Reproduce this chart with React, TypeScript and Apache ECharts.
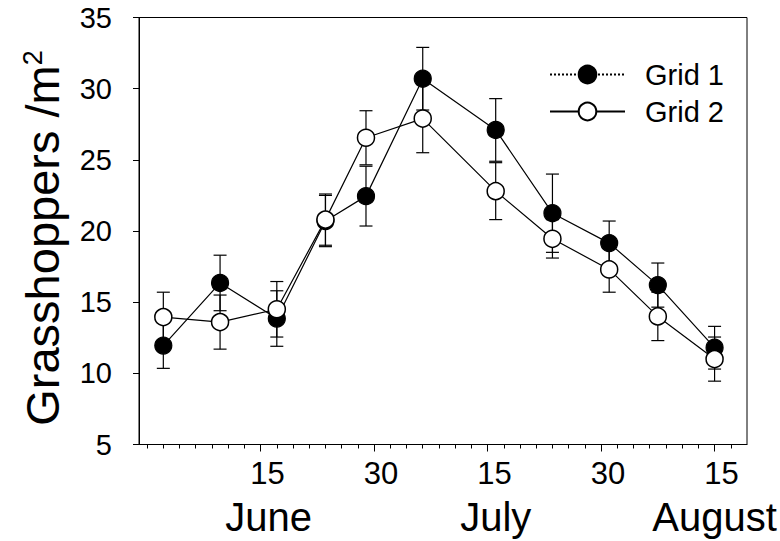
import React, { useEffect, useRef } from "react";
import * as echarts from "echarts";

// Sampling dates, in days relative to 15 June
const sampleDays = [-12, -5, 2, 8, 13, 20, 29, 36, 43, 49, 56];
// Grid 1 (filled circles)
const grid1Mean = [11.95, 16.35, 13.85, 20.7, 22.45, 30.7, 27.1, 21.25, 19.15, 16.2, 11.8];
const grid1Se = [1.6, 1.95, 1.95, 1.8, 2.1, 2.2, 2.2, 2.75, 1.55, 1.55, 1.5];
// Grid 2 (open circles)
const grid2Mean = [13.95, 13.6, 14.5, 20.8, 26.55, 27.9, 22.8, 19.45, 17.3, 14.0, 11.0];
const grid2Se = [1.75, 1.9, 1.95, 1.8, 1.9, 2.4, 2.0, 1.35, 1.6, 1.7, 1.55];

// Axis ticks and labels (days relative to 15 June)
const minorTickDays = [-14, -12, -10, -8, -6, -4, -2, 0, 2, 4, 6, 8, 10, 12, 14, 16, 18, 20, 22, 24, 26, 28, 30, 32, 34, 36, 38, 40, 42, 44, 46, 48, 50, 52, 54, 56, 58];
const majorTickDays = [0, 14, 28, 42, 56];
const majorTickLabels = ["15", "30", "15", "30", "15"];
const monthDays = [1, 29, 56];
const monthNames = ["June", "July", "August"];
const seriesNames = ["Grid 1", "Grid 2"];

const FONT = "'Liberation Sans', Arial, Helvetica, sans-serif";

function lookup(values: number[], labels: string[], v: number): string {
  let best = 0;
  for (let i = 0; i < values.length; i++) {
    if (Math.abs(values[i] - v) < Math.abs(values[best] - v)) best = i;
  }
  return labels[best];
}

function errorData(means: number[], ses: number[]) {
  return sampleDays.map((d, i) => [d, means[i] - ses[i], means[i] + ses[i]]);
}

const errorRender = (_params: any, api: any) => {
  const x = api.value(0);
  const lo = api.coord([x, api.value(1)]);
  const hi = api.coord([x, api.value(2)]);
  const hw = 6.5;
  const style = { stroke: "#000", lineWidth: 1.2, fill: "none" };
  return {
    type: "group",
    children: [
      { type: "line", shape: { x1: lo[0], y1: lo[1], x2: hi[0], y2: hi[1] }, style },
      { type: "line", shape: { x1: lo[0] - hw, y1: lo[1], x2: lo[0] + hw, y2: lo[1] }, style },
      { type: "line", shape: { x1: hi[0] - hw, y1: hi[1], x2: hi[0] + hw, y2: hi[1] }, style },
    ],
  };
};

export default function App() {
  const ref = useRef<HTMLDivElement>(null);

  useEffect(() => {
    if (!ref.current) return;
    const chart = echarts.init(ref.current, undefined, { renderer: "svg" });

    const xBase = { type: "value", min: -15, max: 60, position: "bottom", splitLine: { show: false } };

    chart.setOption({
      animation: false,
      backgroundColor: "#fff",
      textStyle: { fontFamily: FONT, color: "#000" },
      grid: {
        left: 139,
        right: 33,
        top: 17.5,
        bottom: 96.5,
        show: true,
        borderColor: "#000",
        borderWidth: 1,
        backgroundColor: "transparent",
      },
      legend: {
        data: [
          { name: seriesNames[0], lineStyle: { type: "dotted" } },
          { name: seriesNames[1] },
        ],
        orient: "vertical",
        left: 544,
        top: 55,
        itemWidth: 75,
        itemHeight: 22,
        itemGap: 8,
        selectedMode: false,
        textStyle: { fontSize: 29, color: "#000", fontFamily: FONT, padding: [0, 0, 0, 15] },
      },
      xAxis: [
        {
          ...xBase,
          axisLine: { show: true, onZero: false, lineStyle: { color: "#000", width: 1 } },
          axisTick: { show: true, customValues: minorTickDays, length: 4, lineStyle: { color: "#000", width: 1 } },
          axisLabel: { show: false },
        },
        {
          ...xBase,
          axisLine: { show: false, onZero: false },
          axisTick: { show: true, customValues: majorTickDays, length: 7, lineStyle: { color: "#000", width: 1 } },
          axisLabel: {
            show: true,
            customValues: majorTickDays,
            formatter: (v: number) => lookup(majorTickDays, majorTickLabels, v),
            fontSize: 31,
            color: "#000",
            fontFamily: FONT,
            margin: 13,
            padding: [0, 0, 0, 14],
          },
        },
        {
          ...xBase,
          axisLine: { show: false, onZero: false },
          axisTick: { show: false },
          axisLabel: {
            show: true,
            customValues: monthDays,
            formatter: (v: number) => lookup(monthDays, monthNames, v),
            fontSize: 40,
            color: "#000",
            fontFamily: FONT,
            margin: 52,
          },
        },
      ],
      yAxis: {
        type: "value",
        min: 5,
        max: 35,
        interval: 5,
        splitLine: { show: false },
        axisLine: { show: true, onZero: false, lineStyle: { color: "#000", width: 1 } },
        axisTick: { show: true, length: 6, lineStyle: { color: "#000", width: 1 } },
        axisLabel: { fontSize: 29, color: "#000", fontFamily: FONT, margin: 27 },
        name: "Grasshoppers /m{sup|2}",
        nameLocation: "middle",
        nameGap: 73,
        nameTextStyle: {
          fontSize: 47,
          color: "#000",
          fontFamily: FONT,
          padding: [0, 14, 0, 0],
          rich: {
            sup: { fontSize: 27, verticalAlign: "top", color: "#000", fontFamily: FONT },
          },
        },
      },
      series: [
        {
          name: "err1",
          type: "custom",
          renderItem: errorRender,
          data: errorData(grid1Mean, grid1Se),
          encode: { x: 0, y: [1, 2] },
          z: 1,
          silent: true,
        },
        {
          name: "err2",
          type: "custom",
          renderItem: errorRender,
          data: errorData(grid2Mean, grid2Se),
          encode: { x: 0, y: [1, 2] },
          z: 1,
          silent: true,
        },
        {
          name: seriesNames[0],
          type: "line",
          data: sampleDays.map((d, i) => [d, grid1Mean[i]]),
          symbol: "circle",
          symbolSize: 17,
          showSymbol: true,
          showAllSymbol: true,
          lineStyle: { color: "#000", width: 1.2 },
          itemStyle: { color: "#000", borderColor: "#000", borderWidth: 1.2 },
          emphasis: { disabled: true },
          z: 2,
        },
        {
          name: seriesNames[1],
          type: "line",
          data: sampleDays.map((d, i) => [d, grid2Mean[i]]),
          symbol: "circle",
          symbolSize: 17,
          showSymbol: true,
          showAllSymbol: true,
          lineStyle: { color: "#000", width: 1.2 },
          itemStyle: { color: "#fff", borderColor: "#000", borderWidth: 1.5 },
          emphasis: { disabled: true },
          z: 3,
        },
      ],
    });

    return () => chart.dispose();
  }, []);

  return (
    <div
      ref={ref}
      style={{ position: "fixed", left: 0, top: 0, width: 780, height: 541, background: "#fff" }}
    />
  );
}
